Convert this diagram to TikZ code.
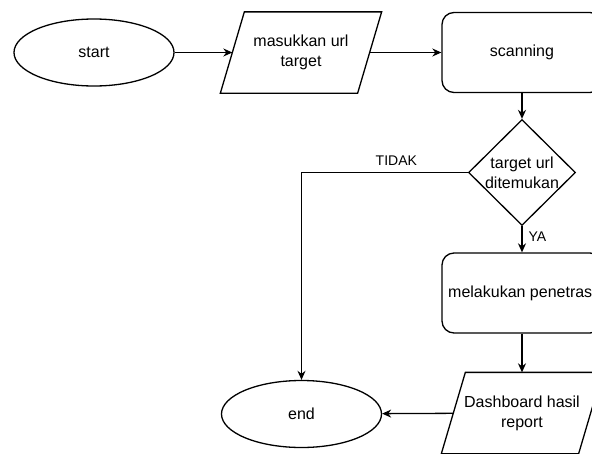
\documentclass[tikz,border=0pt]{standalone}
\usepackage{fontspec}
\setmainfont{Liberation Sans}
\usetikzlibrary{shapes.geometric,arrows.meta}
\begin{document}
\begin{tikzpicture}[x=1pt,y=-1pt,
  line width=1.3pt,
  every node/.style={font=\fontsize{16}{20}\selectfont, inner sep=0pt, align=center},
  term/.style={ellipse, draw, minimum width=160pt, minimum height=67pt},
  procbox/.style={rectangle, draw, rounded corners=12pt, minimum width=160pt, minimum height=80pt},
  iobox/.style={rectangle, minimum width=136pt, minimum height=80pt},
  decision/.style={diamond, draw, minimum width=107pt, minimum height=106pt},
  flow/.style={-{Stealth[length=9pt,width=8pt]}},
  lbl/.style={font=\fontsize{14}{16}\selectfont},
]
\fill[white] (0,0) rectangle (592,453);
\useasboundingbox (0,0) rectangle (592,453);
\clip (0,0) rectangle (592,453);

\node[term] (start) at (94,52.5) {start};
\node[iobox] (input) at (301,52.5) {masukkan url\\target};
\node[procbox] (scan) at (522,52.5) {scanning};
\node[decision, label={[name=dtext]center:target url\\ditemukan}] (dec) at (522,172.5) {};
\node[procbox] (pen) at (522,293) {melakukan penetrasi};
\node[iobox] (dash) at (522,413) {Dashboard hasil\\report};
\node[term] (end) at (301.5,414) {end};

% parallelogram outlines
\draw ([xshift=-12pt]input.south west) -- ([xshift=12pt]input.north west)
  -- ([xshift=12pt]input.north east) -- ([xshift=-12pt]input.south east) -- cycle;
\draw ([xshift=-12pt]dash.south west) -- ([xshift=12pt]dash.north west)
  -- ([xshift=12pt]dash.north east) -- ([xshift=-12pt]dash.south east) -- cycle;

% connectors
\draw[flow] (start) -- (input);
\draw[flow] (input) -- (scan);
\draw[flow] (scan) -- (dec);
\draw[flow] (dec.south) -- node[lbl, pos=0.4, right=6pt] {YA} (pen.north);
\draw[flow] (pen) -- (dash);
\draw[flow] (dash) -- (end);
\draw[flow] (dec.west) -| node[lbl, pos=0.215, above=6pt] {TIDAK} (end.north);
\end{tikzpicture}
\end{document}
